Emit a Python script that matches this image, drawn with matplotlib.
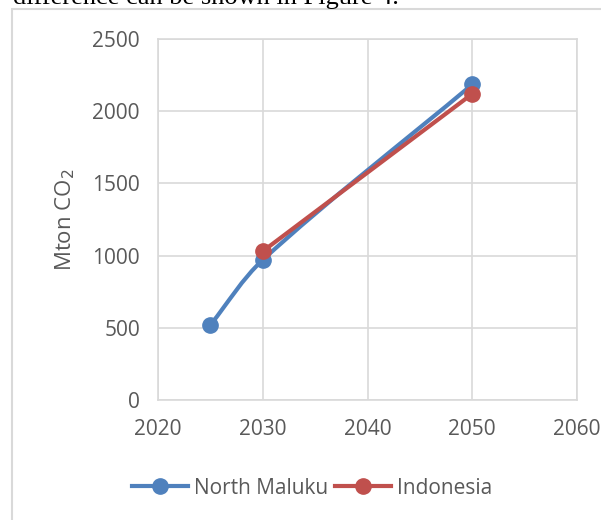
import numpy as np
import matplotlib.pyplot as plt
from matplotlib.path import Path
from matplotlib.patches import PathPatch
from matplotlib.lines import Line2D

# data
maluku_years = [2025, 2030, 2050]
maluku_co2 = [520, 970, 2185]
indo_years = [2030, 2050]
indo_co2 = [1030, 2120]
x_ticks = [2020, 2030, 2040, 2050, 2060]
y_ticks = [0, 500, 1000, 1500, 2000, 2500]

BLUE = '#4f81bd'
RED = '#c0504d'
TXT = '#595959'
GRID = '#d9d9d9'

plt.rcParams['font.family'] = ['Open Sans', 'DejaVu Sans']

fig = plt.figure(figsize=(6.01, 5.20), dpi=100)
ax = fig.add_axes([158 / 601, 1 - 400 / 520, (577 - 158) / 601, (400 - 39) / 520])
ax.set_xlim(2020, 2060)
ax.set_ylim(0, 2500)


def smooth_path(xs, ys):
    # smoothed line like Excel's: cubic beziers, handles sized by chord length (pixel space)
    pts = ax.transData.transform(np.column_stack([xs, ys]))
    n = len(pts)
    d = [np.hypot(*(pts[i + 1] - pts[i])) for i in range(n - 1)]
    verts = [pts[0]]
    codes = [Path.MOVETO]
    for i in range(n - 1):
        p1, p2 = pts[i], pts[i + 1]
        if i == 0:
            c1 = p1 + (p2 - p1) / 3
        else:
            c1 = p1 + (p2 - pts[i - 1]) * d[i] / (d[i - 1] + d[i]) / 3
        if i == n - 2:
            c2 = p2 - (p2 - p1) / 3
        else:
            c2 = p2 - (pts[i + 2] - p1) * d[i] / (d[i] + d[i + 1]) / 3
        verts += [c1, c2, p2]
        codes += [Path.CURVE4] * 3
    verts = ax.transData.inverted().transform(np.array(verts))
    return Path(verts, codes)


ax.add_patch(PathPatch(smooth_path(maluku_years, maluku_co2), fill=False,
                       edgecolor=BLUE, lw=3, capstyle='round', zorder=3))
ax.plot(maluku_years, maluku_co2, 'o', color=BLUE, ms=11, zorder=4)
ax.plot(indo_years, indo_co2, '-o', color=RED, lw=3, ms=11, zorder=5)

ax.set_xticks(x_ticks)
ax.set_yticks(y_ticks)
ax.grid(True, color=GRID, lw=1.2)
ax.set_axisbelow(True)
for s in ax.spines.values():
    s.set_color(GRID)
    s.set_linewidth(1.2)
ax.tick_params(length=0, labelsize=15, labelcolor=TXT)
ax.tick_params(axis='y', pad=13)
ax.tick_params(axis='x', pad=14)
ax.set_ylabel('Mton CO$_2$', fontsize=16, color=TXT, labelpad=11)

handles = [Line2D([], [], color=BLUE, lw=3, marker='o', ms=11),
           Line2D([], [], color=RED, lw=3, marker='o', ms=11)]
fig.legend(handles, ['North Maluku', 'Indonesia'], loc='center',
           bbox_to_anchor=(312 / 601, 1 - 488 / 520), ncol=2, frameon=False,
           fontsize=15, labelcolor=TXT, handlelength=2.7, handletextpad=0.3,
           columnspacing=0.3)

# outer chart border and the cut-off caption line above it
fig.patches.append(plt.Rectangle((12 / 601, -0.1), 1.1, 1 - 9 / 520 + 0.1,
                                 transform=fig.transFigure, fill=False,
                                 edgecolor=GRID, lw=1.5))
fig.text(13 / 601, 1 - 4 / 520, 'difference can be shown in Figure 4.',
         family=['Liberation Serif', 'DejaVu Serif'], fontsize=19,
         color='black', va='baseline')

fig.savefig('out.png', dpi=100)
